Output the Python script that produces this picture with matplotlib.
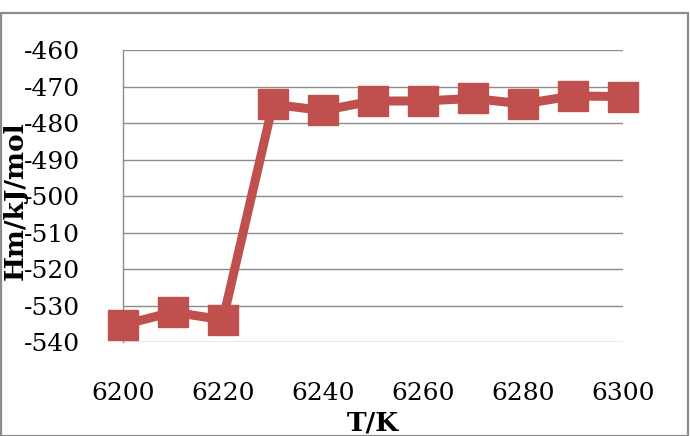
import matplotlib
matplotlib.use("Agg")
import matplotlib.pyplot as plt
from matplotlib.patches import Rectangle

temperature = [6200, 6210, 6220, 6230, 6240, 6250, 6260, 6270, 6280, 6290, 6300]
enthalpy = [-535.3, -531.8, -533.9, -474.8, -476.5, -473.9, -473.9, -473.2, -474.7, -472.5, -472.7]
x_ticks = [6200, 6220, 6240, 6260, 6280, 6300]
y_ticks = [-540, -530, -520, -510, -500, -490, -480, -470, -460]

plt.rcParams['axes.unicode_minus'] = False
fig = plt.figure(figsize=(6.9, 4.36), dpi=100)
fig.patches.append(Rectangle((0.001, 0.0), 0.996, 0.971, transform=fig.transFigure,
                             fill=False, edgecolor='#8c8c8c', linewidth=1.6))
ax = fig.add_axes([0.178, 0.2156, 0.725, 0.669])

red = '#C0504D'
ax.plot(temperature, enthalpy, color=red, linewidth=6.5, marker='s', markersize=22,
        markerfacecolor=red, markeredgecolor=red, solid_joinstyle='miter', zorder=3,
        clip_on=False)

ax.set_xlim(6200, 6300)
ax.set_ylim(-540, -460)
ax.set_xticks(x_ticks)
ax.set_yticks(y_ticks)
ax.yaxis.grid(True, color='#8c8c8c', linewidth=1.0)
ax.set_axisbelow(True)
for s in ['top', 'right', 'bottom']:
    ax.spines[s].set_visible(False)
ax.spines['left'].set_color('#8c8c8c')
ax.spines['left'].set_linewidth(1.0)
ax.tick_params(axis='both', length=0, labelsize=18)
ax.tick_params(axis='y', pad=31)
ax.tick_params(axis='x', pad=29)
for lab in ax.get_xticklabels() + ax.get_yticklabels():
    lab.set_fontfamily('DejaVu Serif')

ax.set_xlabel('T/K', fontfamily='DejaVu Serif', fontweight='bold', fontsize=19, labelpad=4)
ax.set_ylabel('Hm/kJ/mol', fontfamily='DejaVu Serif', fontweight='bold', fontsize=19)
ax.yaxis.set_label_coords(-0.19, 0.485)

fig.savefig('out.png', dpi=100)
